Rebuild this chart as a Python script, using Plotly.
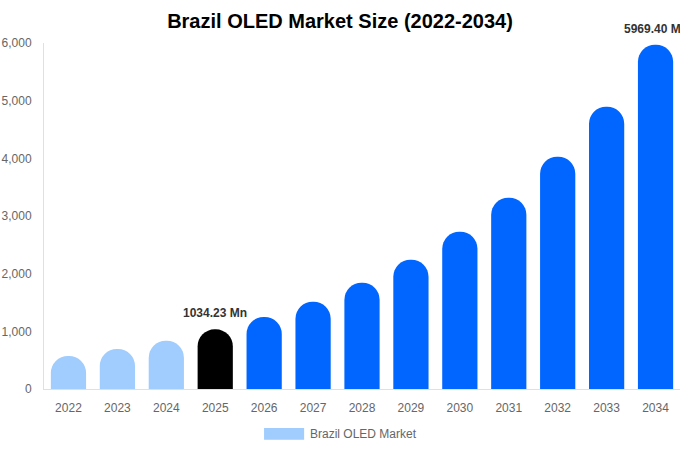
import plotly.graph_objects as go

# данные
years = ["2022", "2023", "2024", "2025", "2026", "2027", "2028",
         "2029", "2030", "2031", "2032", "2033", "2034"]
market_size = [572, 694, 838, 1034.23, 1248, 1514, 1843,
               2242, 2728, 3317, 4028, 4895, 5969.40]
bar_colors = ["#A0CDFD"] * 3 + ["#000000"] + ["#0066FF"] * 9
labelled = {"2025": "1034.23 Mn", "2034": "5969.40 Mn"}

fig = go.Figure()

fig.add_trace(go.Bar(
    x=years,
    y=market_size,
    marker=dict(color=bar_colors, line=dict(width=0)),
    name="Brazil OLED Market",
    showlegend=False,
    hoverinfo="x+y"
))

# подписи над выбранными столбцами (x как индекс категории)
for yr, txt in labelled.items():
    i = years.index(yr)
    fig.add_annotation(
        x=i, y=market_size[i],
        text=f"<b>{txt}</b>",
        showarrow=False,
        yanchor="bottom", yshift=7,
        font=dict(size=12, color="#333333")
    )

# легенда вручную (широкий прямоугольник)
fig.add_shape(type="rect", xref="paper", yref="paper",
              x0=0.346, x1=0.409, y0=-0.147, y1=-0.113,
              fillcolor="#A0CDFD", line=dict(width=0))
fig.add_annotation(xref="paper", yref="paper", x=0.415, y=-0.130,
                   text="Brazil OLED Market", showarrow=False,
                   xanchor="left", yanchor="middle",
                   font=dict(size=12, color="#666666"))

fig.update_layout(
    title=dict(text="<b>Brazil OLED Market Size (2022-2034)</b>",
               x=0.5, xanchor="center", y=0.953, yanchor="middle",
               font=dict(size=20, color="#000000")),
    font=dict(family="Liberation Sans, Arial, sans-serif", size=12, color="#666666"),
    width=680,
    height=450,
    margin=dict(l=44, r=0, t=43, b=61),
    plot_bgcolor="white",
    paper_bgcolor="white",
    bargap=0.28,
    barcornerradius="50%",
    xaxis=dict(type="category", range=[-0.5, len(years) - 0.5],
               showgrid=False, showline=True, linecolor="#E0E0E0",
               ticks="", ticklabelstandoff=8,
               tickfont=dict(size=12, color="#666666")),
    yaxis=dict(range=[0, 6000], dtick=1000, tickformat=",d",
               showgrid=False, showline=True, linecolor="#E0E0E0",
               ticks="", ticklabelstandoff=9, zeroline=False, automargin=False,
               tickfont=dict(size=12, color="#666666"))
)

# убрать отступ body, чтобы график начинался с (0, 0)
fig.write_html("out.html", config={"displayModeBar": False},
               post_script="document.body.style.margin='0';")
